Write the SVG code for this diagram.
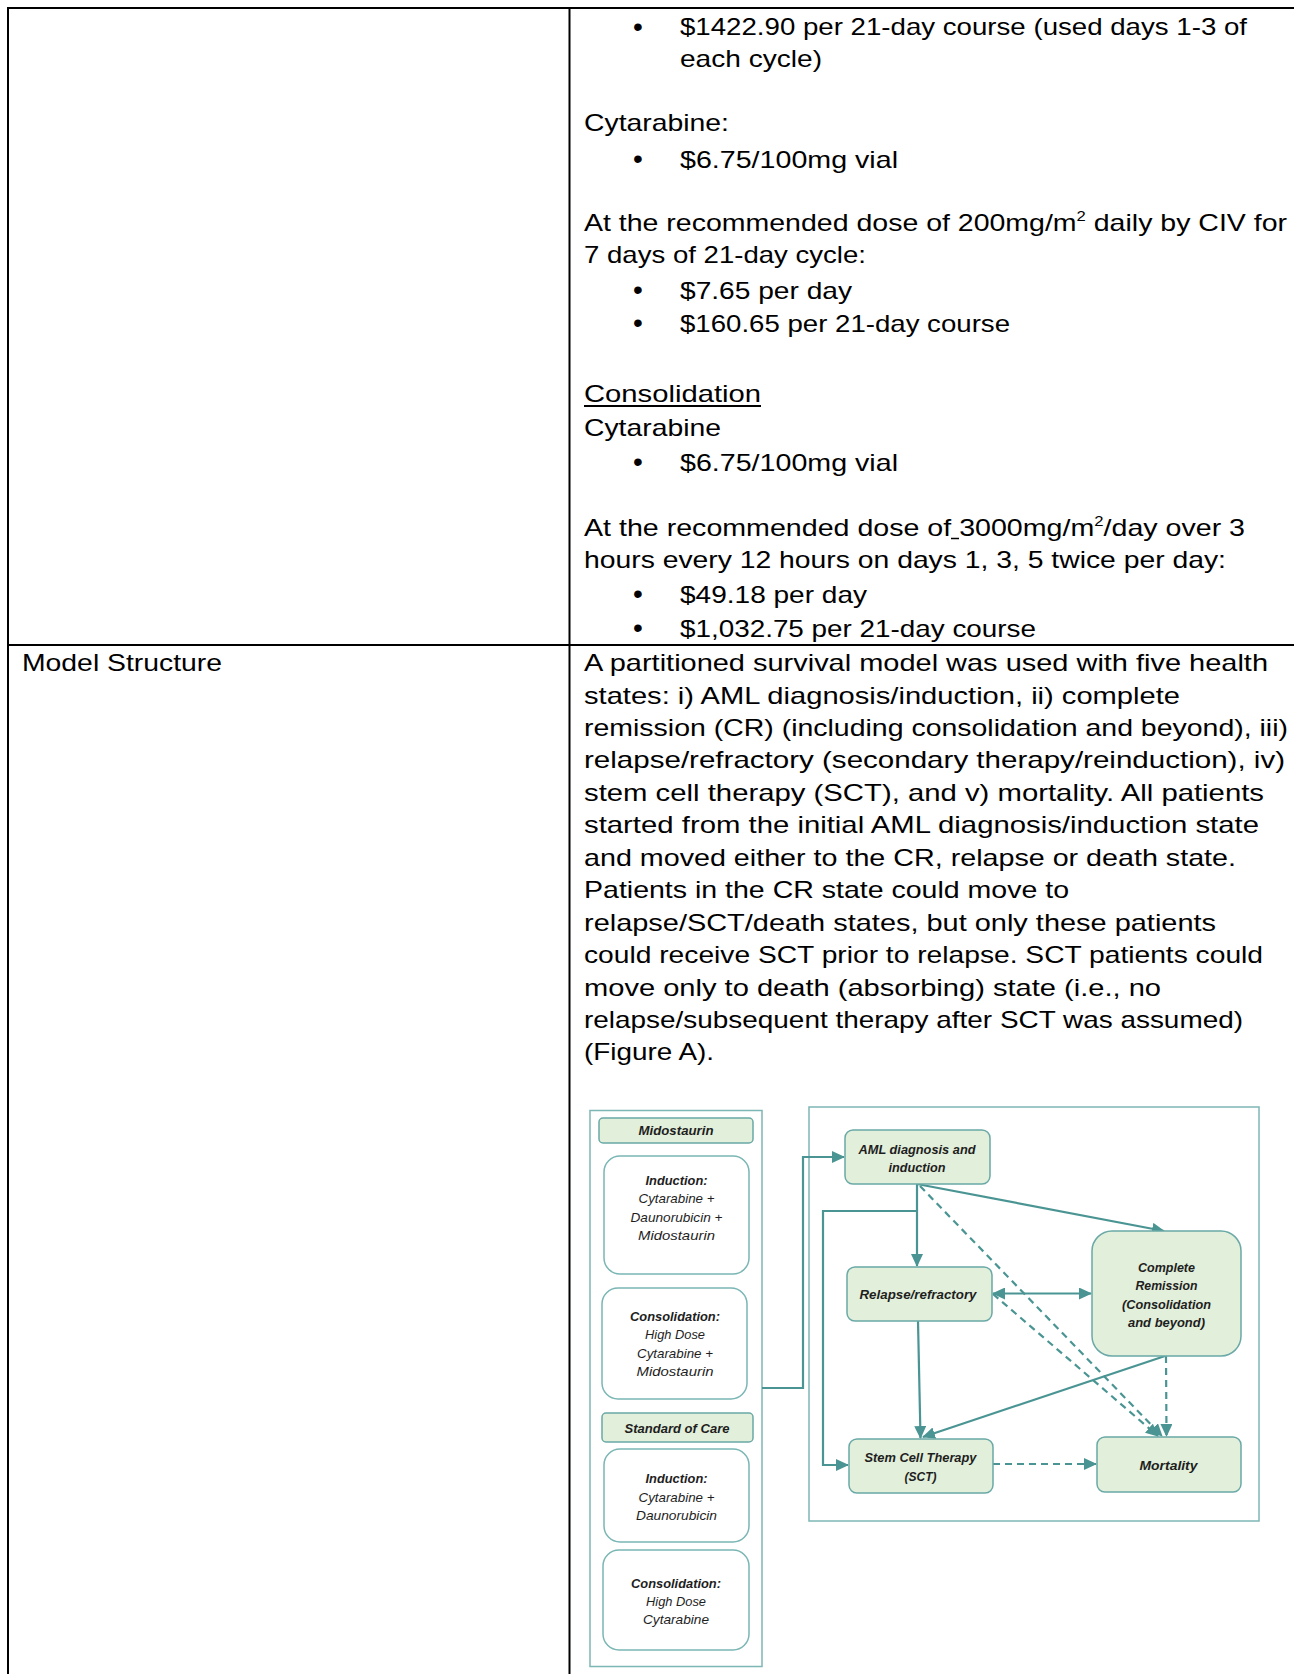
<svg xmlns="http://www.w3.org/2000/svg" width="1294" height="1674" viewBox="0 0 1294 1674">
<style>
.t{font-family:"Liberation Sans Narrow","Liberation Sans",Arial,sans-serif;font-size:24px;fill:#000}
.b{font-family:"Liberation Sans",Arial,sans-serif;font-size:28px;fill:#000;text-anchor:middle}
.grid{stroke:#000;stroke-width:2;fill:none}
.panel{fill:none;stroke:#7db7b5;stroke-width:1.5}
.hdr{fill:#e2efda;stroke:#6aa9a7;stroke-width:1.5}
.drug{fill:#fff;stroke:#7ab6b4;stroke-width:1.5}
.node{fill:#e2efda;stroke:#6aa9a7;stroke-width:1.5}
.ft{font-family:"Liberation Sans",Arial,sans-serif;font-size:13px;font-style:italic;fill:#1e1e1e;text-anchor:middle}
.fb{font-weight:bold}
.c{fill:none;stroke:#4a9593;stroke-width:2.2}
.d{stroke-dasharray:7 5}
</style>
<defs>
<marker id="ah" markerUnits="userSpaceOnUse" markerWidth="13" markerHeight="12" refX="12" refY="6" orient="auto-start-reverse">
<path d="M0,0 L13,6 L0,12 z" fill="#4a9593"/>
</marker>
</defs>
<rect width="1294" height="1674" fill="#fff"/>

<g id="table">
<line class="grid" x1="8" y1="8" x2="1294" y2="8"/>
<line class="grid" x1="8" y1="7" x2="8" y2="1674"/>
<line class="grid" x1="569.5" y1="7" x2="569.5" y2="1674"/>
<line class="grid" x1="8" y1="645" x2="1294" y2="645"/>
</g>

<g id="cell-costs">
<text class="b" x="638" y="36">•</text>
<text class="t" x="680" y="35" textLength="567" lengthAdjust="spacingAndGlyphs">$1422.90 per 21-day course (used days 1-3 of</text>
<text class="t" x="680" y="67" textLength="142" lengthAdjust="spacingAndGlyphs">each cycle)</text>
<text class="t" x="584" y="131" textLength="145" lengthAdjust="spacingAndGlyphs">Cytarabine:</text>
<text class="b" x="638" y="168">•</text>
<text class="t" x="680" y="167.5" textLength="218" lengthAdjust="spacingAndGlyphs">$6.75/100mg vial</text>
<text class="t" x="584" y="230.5" textLength="703" lengthAdjust="spacingAndGlyphs">At the recommended dose of 200mg/m<tspan font-size="14" dy="-10">2</tspan><tspan dy="10"> daily by CIV for</tspan></text>
<text class="t" x="584" y="263" textLength="282" lengthAdjust="spacingAndGlyphs">7 days of 21-day cycle:</text>
<text class="b" x="638" y="299">•</text>
<text class="t" x="680" y="298.5" textLength="172" lengthAdjust="spacingAndGlyphs">$7.65 per day</text>
<text class="b" x="638" y="332">•</text>
<text class="t" x="680" y="331.5" textLength="330" lengthAdjust="spacingAndGlyphs">$160.65 per 21-day course</text>
<text class="t" x="584" y="402" textLength="177" lengthAdjust="spacingAndGlyphs">Consolidation</text>
<line x1="584" y1="406" x2="761" y2="406" stroke="#000" stroke-width="2"/>
<text class="t" x="584" y="436" textLength="137" lengthAdjust="spacingAndGlyphs">Cytarabine</text>
<text class="b" x="638" y="471">•</text>
<text class="t" x="680" y="470.5" textLength="218" lengthAdjust="spacingAndGlyphs">$6.75/100mg vial</text>
<text class="t" x="584" y="535.5" textLength="661" lengthAdjust="spacingAndGlyphs">At the recommended dose of 3000mg/m<tspan font-size="14" dy="-10">2</tspan><tspan dy="10">/day over 3</tspan></text>
<line x1="951" y1="538.5" x2="959" y2="538.5" stroke="#000" stroke-width="1.5"/>
<text class="t" x="584" y="567.5" textLength="642" lengthAdjust="spacingAndGlyphs">hours every 12 hours on days 1, 3, 5 twice per day:</text>
<text class="b" x="638" y="603">•</text>
<text class="t" x="680" y="602.5" textLength="187" lengthAdjust="spacingAndGlyphs">$49.18 per day</text>
<text class="b" x="638" y="637">•</text>
<text class="t" x="680" y="636.5" textLength="356" lengthAdjust="spacingAndGlyphs">$1,032.75 per 21-day course</text>
</g>

<g id="cell-model-label">
<text class="t" x="22" y="671" textLength="200" lengthAdjust="spacingAndGlyphs">Model Structure</text>
</g>

<g id="cell-model-text">
<text class="t" x="584" y="671" textLength="684" lengthAdjust="spacingAndGlyphs">A partitioned survival model was used with five health</text>
<text class="t" x="584" y="703.5" textLength="596" lengthAdjust="spacingAndGlyphs">states: i) AML diagnosis/induction, ii) complete</text>
<text class="t" x="584" y="736" textLength="704" lengthAdjust="spacingAndGlyphs">remission (CR) (including consolidation and beyond), iii)</text>
<text class="t" x="584" y="768.4" textLength="701" lengthAdjust="spacingAndGlyphs">relapse/refractory (secondary therapy/reinduction), iv)</text>
<text class="t" x="584" y="800.8" textLength="680" lengthAdjust="spacingAndGlyphs">stem cell therapy (SCT), and v) mortality. All patients</text>
<text class="t" x="584" y="833.3" textLength="675" lengthAdjust="spacingAndGlyphs">started from the initial AML diagnosis/induction state</text>
<text class="t" x="584" y="865.7" textLength="652" lengthAdjust="spacingAndGlyphs">and moved either to the CR, relapse or death state.</text>
<text class="t" x="584" y="898.2" textLength="485" lengthAdjust="spacingAndGlyphs">Patients in the CR state could move to</text>
<text class="t" x="584" y="930.6" textLength="632" lengthAdjust="spacingAndGlyphs">relapse/SCT/death states, but only these patients</text>
<text class="t" x="584" y="963" textLength="679" lengthAdjust="spacingAndGlyphs">could receive SCT prior to relapse. SCT patients could</text>
<text class="t" x="584" y="995.5" textLength="577" lengthAdjust="spacingAndGlyphs">move only to death (absorbing) state (i.e., no</text>
<text class="t" x="584" y="1027.9" textLength="659" lengthAdjust="spacingAndGlyphs">relapse/subsequent therapy after SCT was assumed)</text>
<text class="t" x="584" y="1060.4" textLength="130" lengthAdjust="spacingAndGlyphs">(Figure A).</text>
</g>

<g id="treatment-panel">
<rect class="panel" x="590" y="1110.5" width="172" height="556"/>
</g>
<g id="midostaurin-header">
<rect class="hdr" x="599" y="1118" width="154" height="25" rx="4"/>
<text class="ft fb" x="676" y="1135" textLength="75" lengthAdjust="spacingAndGlyphs">Midostaurin</text>
</g>
<g id="mido-induction">
<rect class="drug" x="604" y="1156" width="145" height="118" rx="16"/>
<text class="ft fb" x="676.5" y="1185" textLength="62" lengthAdjust="spacingAndGlyphs">Induction:</text>
<text class="ft" x="676.5" y="1203" textLength="76" lengthAdjust="spacingAndGlyphs">Cytarabine +</text>
<text class="ft" x="676.5" y="1221.5" textLength="92" lengthAdjust="spacingAndGlyphs">Daunorubicin +</text>
<text class="ft" x="676.5" y="1240" textLength="77" lengthAdjust="spacingAndGlyphs">Midostaurin</text>
</g>
<g id="mido-consolidation">
<rect class="drug" x="602" y="1288" width="145" height="111" rx="16"/>
<text class="ft fb" x="675" y="1321" textLength="90" lengthAdjust="spacingAndGlyphs">Consolidation:</text>
<text class="ft" x="675" y="1339" textLength="60" lengthAdjust="spacingAndGlyphs">High Dose</text>
<text class="ft" x="675" y="1357.5" textLength="76" lengthAdjust="spacingAndGlyphs">Cytarabine +</text>
<text class="ft" x="675" y="1376" textLength="77" lengthAdjust="spacingAndGlyphs">Midostaurin</text>
</g>
<g id="soc-header">
<rect class="hdr" x="602" y="1413" width="151" height="29" rx="4"/>
<text class="ft fb" x="677" y="1433" textLength="105" lengthAdjust="spacingAndGlyphs">Standard of Care</text>
</g>
<g id="soc-induction">
<rect class="drug" x="604" y="1449" width="145" height="93" rx="16"/>
<text class="ft fb" x="676.5" y="1483" textLength="62" lengthAdjust="spacingAndGlyphs">Induction:</text>
<text class="ft" x="676.5" y="1502" textLength="76" lengthAdjust="spacingAndGlyphs">Cytarabine +</text>
<text class="ft" x="676.5" y="1520" textLength="81" lengthAdjust="spacingAndGlyphs">Daunorubicin</text>
</g>
<g id="soc-consolidation">
<rect class="drug" x="603" y="1550" width="146" height="100" rx="16"/>
<text class="ft fb" x="676" y="1588" textLength="90" lengthAdjust="spacingAndGlyphs">Consolidation:</text>
<text class="ft" x="676" y="1606" textLength="60" lengthAdjust="spacingAndGlyphs">High Dose</text>
<text class="ft" x="676" y="1624" textLength="66" lengthAdjust="spacingAndGlyphs">Cytarabine</text>
</g>

<g id="state-panel">
<rect class="panel" x="809" y="1107" width="450" height="414"/>
</g>

<g id="connectors">
<polyline class="c" points="762,1388 803,1388 803,1157 844,1157" marker-end="url(#ah)"/>
<line class="c" x1="917" y1="1184" x2="917" y2="1266" marker-end="url(#ah)"/>
<polyline class="c" points="917,1211 823,1211 823,1465 848,1465" marker-end="url(#ah)"/>
<line class="c" x1="917" y1="1184" x2="1164" y2="1231" marker-end="url(#ah)"/>
<line class="c d" x1="920" y1="1186" x2="1162" y2="1436" marker-end="url(#ah)"/>
<line class="c d" x1="993" y1="1294" x2="1158" y2="1436" marker-end="url(#ah)"/>
<line class="c" x1="993" y1="1293.5" x2="1091" y2="1293.5" marker-start="url(#ah)" marker-end="url(#ah)"/>
<line class="c" x1="918" y1="1321" x2="920.5" y2="1438" marker-end="url(#ah)"/>
<line class="c" x1="1165" y1="1356" x2="923" y2="1437" marker-end="url(#ah)"/>
<line class="c d" x1="1166" y1="1356" x2="1166.5" y2="1436" marker-end="url(#ah)"/>
<line class="c d" x1="993" y1="1464" x2="1096" y2="1464" marker-end="url(#ah)"/>
</g>

<g id="aml">
<rect class="node" x="845" y="1130" width="145" height="54" rx="8"/>
<text class="ft fb" x="917" y="1154" textLength="117" lengthAdjust="spacingAndGlyphs">AML diagnosis and</text>
<text class="ft fb" x="917" y="1172" textLength="57" lengthAdjust="spacingAndGlyphs">induction</text>
</g>
<g id="relapse">
<rect class="node" x="847" y="1267" width="145" height="54" rx="8"/>
<text class="ft fb" x="918" y="1299" textLength="117" lengthAdjust="spacingAndGlyphs">Relapse/refractory</text>
</g>
<g id="cr">
<rect class="node" x="1092" y="1231" width="149" height="125" rx="20"/>
<text class="ft fb" x="1166.5" y="1272" textLength="57" lengthAdjust="spacingAndGlyphs">Complete</text>
<text class="ft fb" x="1166.5" y="1290" textLength="62" lengthAdjust="spacingAndGlyphs">Remission</text>
<text class="ft fb" x="1166.5" y="1308.5" textLength="89" lengthAdjust="spacingAndGlyphs">(Consolidation</text>
<text class="ft fb" x="1166.5" y="1327" textLength="77" lengthAdjust="spacingAndGlyphs">and beyond)</text>
</g>
<g id="sct">
<rect class="node" x="849" y="1439" width="144" height="54" rx="8"/>
<text class="ft fb" x="920.5" y="1462" textLength="112" lengthAdjust="spacingAndGlyphs">Stem Cell Therapy</text>
<text class="ft fb" x="920.5" y="1480.5" textLength="32" lengthAdjust="spacingAndGlyphs">(SCT)</text>
</g>
<g id="mortality">
<rect class="node" x="1097" y="1437" width="144" height="55" rx="8"/>
<text class="ft fb" x="1168.5" y="1470" textLength="58" lengthAdjust="spacingAndGlyphs">Mortality</text>
</g>
</svg>
